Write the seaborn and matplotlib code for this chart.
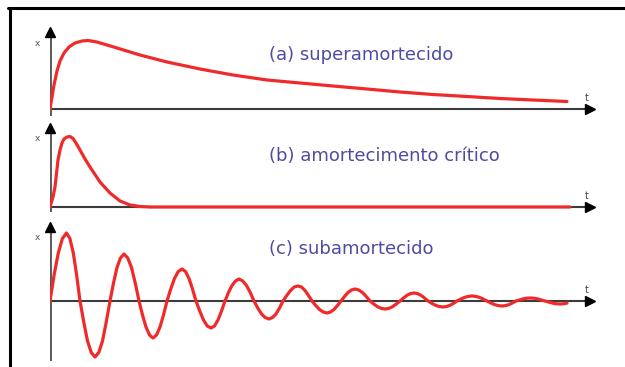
import matplotlib
matplotlib.use("Agg")
import matplotlib.pyplot as plt
import matplotlib.transforms as mtransforms
from matplotlib.lines import Line2D
import pandas as pd
import seaborn as sns

sns.set_style("white")
plt.rcParams["font.family"] = ["DejaVu Sans"]

W, H = 625, 367

# (a) overdamped response
t_over = [0, 2, 4, 7, 10, 14, 19, 25, 32, 38, 47, 67, 90, 117, 150, 183,
          217, 250, 283, 317, 350, 383, 417, 450, 483, 517]
x_over = [0, 12, 24, 38, 48, 56, 62, 66, 68, 68.5, 67, 61, 54, 47, 40, 34,
          29, 26, 23, 20, 17, 14.5, 12.5, 10.5, 9, 7.5]

# (b) critically damped response
t_crit = [0, 3, 5, 8, 10, 12, 14, 17, 20, 23, 26, 30, 35, 40, 50, 60, 70,
          80, 90, 100, 520]
x_crit = [0, 10, 20, 47, 57, 64, 68, 70, 70.5, 68.5, 64, 57, 48, 40, 25,
          14, 6, 2, 0.5, 0, 0]

# (c) underdamped response
t_under = [0, 4.1, 8.3, 12.4, 16.5, 19.9, 23.3, 26.6, 30,
           33.75, 37.5, 41.25, 45, 48.75, 52.5, 56.25, 60,
           63.5, 67, 70.5, 74, 77.75, 81.5, 85.25, 89,
           92.5, 96, 99.5, 103, 106.5, 110, 113.5, 117,
           120.75, 124.5, 128.25, 132, 135.5, 139, 142.5, 146,
           149.75, 153.5, 157.25, 161, 164.5, 168, 171.5, 175,
           178.5, 182, 185.5, 189, 192.75, 196.5, 200.25, 204,
           207.75, 211.5, 215.25, 219, 222.5, 226, 229.5, 233,
           236.75, 240.5, 244.25, 248, 251.5, 255, 258.5, 262,
           265.75, 269.5, 273.25, 277, 280.5, 284, 287.5, 291,
           294.5, 298, 301.5, 305, 308.75, 312.5, 316.25, 320,
           323.75, 327.5, 331.25, 335, 338.75, 342.5, 346.25, 350,
           353.5, 357, 360.5, 364, 367.5, 371, 374.5, 378,
           381.75, 385.5, 389.25, 393, 396.5, 400, 403.5, 407,
           410.75, 414.5, 418.25, 422, 425.75, 429.5, 433.25, 437,
           440.75, 444.5, 448.25, 452, 455.5, 459, 462.5, 466,
           469.5, 473, 476.5, 480, 483.75, 487.5, 491.25, 495,
           498.75, 502.5, 506.25, 510, 513.5, 517]
x_under = [0, 26, 48, 62.5, 68, 62.5, 48, 26, 0,
           -21, -40, -51.5, -56, -51.5, -40, -21, 0,
           18, 33.5, 43, 47, 43, 33.5, 18, 0,
           -14, -26, -34, -37, -34, -26, -14, 0,
           12, 22.5, 29.5, 32, 29.5, 22.5, 12, 0,
           -10, -19, -25, -27, -25, -19, -10, 0,
           8.5, 15.5, 20, 22, 20, 15.5, 8.5, 0,
           -7, -13, -16.5, -18, -16.5, -13, -7, 0,
           5.5, 10.5, 14, 15, 14, 10.5, 5.5, 0,
           -4.5, -8.5, -11, -12, -11, -8.5, -4.5, 0,
           4.5, 8.5, 11, 12, 11, 8.5, 4.5, 0,
           -3, -5.7, -7.4, -8, -7.4, -5.7, -3, 0,
           3, 5.7, 7.4, 8, 7.4, 5.7, 3, 0,
           -2.3, -4.3, -5.5, -6, -5.5, -4.3, -2.3, 0,
           1.9, 3.6, 4.6, 5, 4.6, 3.6, 1.9, 0,
           -1.9, -3.6, -4.6, -5, -4.6, -3.6, -1.9, 0,
           1.1, 2.1, 2.8, 3, 2.8, 2.1, 1.1, 0,
           -1.1, -2.1, -2.8, -3, -2.8, -2.1]

labels = ["(a) superamortecido", "(b) amortecimento crítico", "(c) subamortecido"]

CURVE = "#f02a2a"
LABEL = "#4c4ca2"

# panel geometry in pixels: (origin row, top row, bottom row)
panels = [(109, 30, 116), (207, 126, 212), (301, 224, 361)]
label_base = [60, 161, 254]
x_left, x_right = 50, 598

fig = plt.figure(figsize=(W / 100, H / 100), dpi=100)

series = [(t_over, x_over), (t_crit, x_crit), (t_under, x_under)]

for (origin, top, bottom), (tt, xx), lab, lb in zip(panels, series, labels, label_base):
    ax = fig.add_axes([x_left / W, 1 - bottom / H,
                       (x_right - x_left) / W, (bottom - top) / H])
    ax.set_xlim(0, x_right - x_left)
    ax.set_ylim(origin - bottom, origin - top)
    ax.axis("off")

    # coordinate axes with arrowheads
    ax.axhline(0, xmin=0, xmax=0.985, color="#3c3c3c", lw=1.5, zorder=1)
    ax.axvline(0, ymin=0, ymax=0.96, color="#5a5a5a", lw=2.8, zorder=1)
    ax.plot([0], [0.975], marker="^", ms=7.5, color="black",
            transform=ax.transAxes, clip_on=False, zorder=3)
    ax.plot([0.985], [0], marker=">", ms=7, color="black",
            transform=mtransforms.blended_transform_factory(ax.transAxes, ax.transData),
            clip_on=False, zorder=3)

    df = pd.DataFrame({"t": tt, "x": xx})
    sns.lineplot(data=df, x="t", y="x", ax=ax, color=CURVE, lw=2.3,
                 estimator=None, sort=False, zorder=2)
    ax.set_xlabel("")
    ax.set_ylabel("")

    # small axis letters
    fig.text(37 / W, 1 - (top + 13) / H, "x", fontsize=6.5, color="#555555",
             ha="center", va="center")
    fig.text(587 / W, 1 - (origin - 11) / H, "t", fontsize=7, color="#444444",
             ha="center", va="center")

    fig.text(269 / W, 1 - lb / H, lab, fontsize=13, color=LABEL,
             ha="left", va="baseline")

# outer frame: top and left rules
fig.add_artist(Line2D([8 / W, 1], [1 - 8 / H, 1 - 8 / H], color="black",
                      lw=2.2, transform=fig.transFigure))
fig.add_artist(Line2D([9.5 / W, 9.5 / W], [0, 1 - 8 / H], color="black",
                      lw=2.2, transform=fig.transFigure))

fig.savefig("out.png", dpi=100, facecolor="white")
